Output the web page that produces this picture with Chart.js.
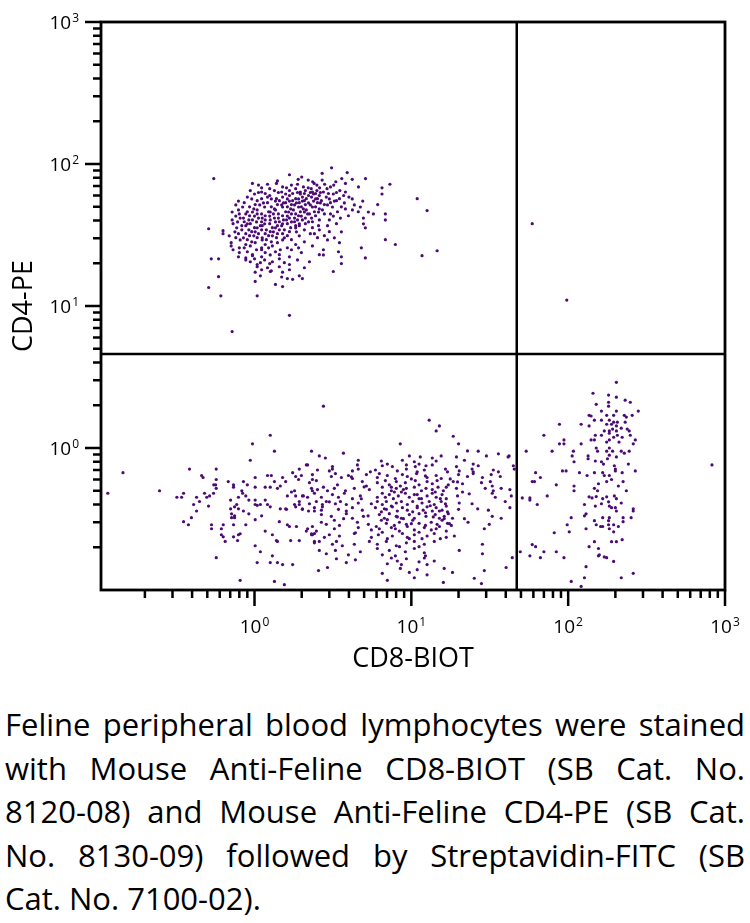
<!DOCTYPE html>
<html>
<head>
<meta charset="utf-8">
<script src="https://cdn.jsdelivr.net/npm/chart.js@4.4.1/dist/chart.umd.min.js"></script>
<style>
  html, body { margin: 0; padding: 0; background: #fff; }
  #wrap { position: relative; width: 750px; height: 923px; overflow: hidden; }
  #plot { position: absolute; left: 0; top: 0; }
  #caption {
    position: absolute; left: 5px; top: 703px; width: 740px;
    font-family: "Open Sans", sans-serif; font-size: 31px; line-height: 43.5px; color: #000;
  }
  #caption .j { text-align: justify; text-align-last: justify; }
</style>
</head>
<body>
<div id="wrap">
  <canvas id="plot" width="750" height="700"></canvas>
  <div id="caption">
    <div class="j">Feline peripheral blood lymphocytes were stained</div>
    <div class="j">with Mouse Anti-Feline CD8-BIOT (SB Cat. No.</div>
    <div class="j">8120-08) and Mouse Anti-Feline CD4-PE (SB Cat.</div>
    <div class="j">No. 8130-09) followed by Streptavidin-FITC (SB</div>
    <div>Cat. No. 7100-02).</div>
  </div>
</div>
<script>
// Axis ranges and tick values (log decades)
const xRange = [0.105, 1000];
const yRange = [0.1, 1000];
const xMajorTicks = [1, 10, 100, 1000];
const yMajorTicks = [1, 10, 100, 1000];
const minorDecades = [0.1, 1, 10, 100];
const minorSteps = [2, 3, 4, 5, 6, 7, 8, 9];

// Quadrant gates
const cd8Gate = 47;
const cd4Gate = 4.6;

const xTitle = 'CD8-BIOT';
const yTitle = 'CD4-PE';

// Events: [CD8, CD4]
// CD4+ CD8- (upper left)
const cd4Pos = [
  [3.1,94],[2.7,86],[3.9,87],[1.67,84],[2.0,81],
  [0.55,79],[1.9,78],[3.6,79],[4.2,78],[5.1,79],
  [1.4,76],[2.2,77],[2.35,75],[2.7,77],[3.3,75],
  [0.97,73],[1.21,72],[1.38,73],[1.88,72],[2.4,73],[2.8,72],[3.8,73],[7.3,72],
  [1.06,71],[1.51,69],[1.72,71],[2.05,69],[2.5,71],[3.05,69],[3.2,71],[4.6,69],
  [1.11,68],[1.25,67],[1.6,68],[1.83,67],[2.2,68],[2.3,67],[2.6,68],[2.9,67],[6.5,68],
  [0.94,65],[1.11,63.5],[1.34,65],[1.49,63.5],[1.67,65],[1.96,63.5],[2.11,65],[2.34,63.5],[2.5,65],[2.75,63.5],[3.5,65],[3.8,63.5],
  [1.06,63],[1.17,62],[1.42,63],[1.75,62],[1.88,63],[2.08,62],[2.27,63],[2.45,62],[2.63,63],[2.96,62],[3.33,63],
  [1.0,61.5],[1.25,60],[1.58,61.5],[1.67,60],[1.96,61.5],[2.21,60],[2.38,61.5],[2.59,60],[3.18,61.5],[3.7,60],[6.5,61.5],
  [0.9,58.5],[1.11,57],[1.21,58.5],[1.38,57],[1.51,58.5],[1.83,57],[2.02,58.5],[2.14,57],[2.31,58.5],[2.52,57],[2.87,58.5],[3.48,57],[4.0,58.5],[10.9,57],
  [0.96,56.8],[1.04,55.2],[1.28,56.8],[1.44,55.2],[1.62,56.8],[1.75,55.2],[1.91,56.8],[2.08,55.2],[2.45,56.8],[2.67,55.2],[3.0,56.8],[3.33,55.2],[4.2,56.8],
  [0.79,54.8],[1.14,53.2],[1.36,54.8],[1.53,53.2],[1.67,54.8],[1.85,53.2],[2.02,54.8],[2.21,53.2],[2.38,54.8],[2.63,53.2],[3.23,54.8],[3.74,53.2],[4.9,54.8],
  [0.86,53.4],[1.01,51.8],[1.21,53.4],[1.4,51.8],[1.58,53.4],[1.72,51.8],[1.93,53.4],[2.11,51.8],[2.52,53.4],[2.79,51.8],[3.05,53.4],[6.1,51.8],
  [0.76,51.5],[0.93,49.9],[1.08,51.5],[1.28,49.9],[1.49,51.5],[1.62,49.9],[1.8,51.5],[1.99,49.9],[2.27,51.5],[2.45,49.9],[2.92,51.5],[3.58,49.9],[4.33,51.5],
  [0.84,49.8],[0.99,48.3],[1.16,49.8],[1.34,48.3],[1.51,49.8],[1.7,48.3],[1.91,49.8],[2.05,48.3],[2.34,49.8],[2.59,48.3],[3.14,49.8],[3.8,48.3],[4.73,49.8],
  [0.79,47.5],[0.9,46.1],[1.04,47.5],[1.23,46.1],[1.36,47.5],[1.58,46.1],[1.77,47.5],[1.96,46.1],[2.14,47.5],[2.41,46.1],[2.71,47.5],[3.38,46.1],[4.21,47.5],[4.59,46.1],[12.6,47],
  [0.72,45.9],[0.88,44.5],[0.97,45.9],[1.11,44.5],[1.26,45.9],[1.42,44.5],[1.65,45.9],[1.83,44.5],[2.08,45.9],[2.24,44.5],[2.56,45.9],[3.05,44.5],[5.32,45.9],[6.83,44.5],
  [0.8,44.5],[0.93,43.2],[1.04,44.5],[1.17,43.2],[1.32,44.5],[1.51,43.2],[1.72,44.5],[1.91,43.2],[2.18,44.5],[2.45,43.2],[2.79,44.5],[3.97,43.2],[5.73,44.5],
  [0.76,43],[0.85,41.6],[1.0,43],[1.12,41.6],[1.25,43],[1.42,41.6],[1.62,43],[1.8,41.6],[1.99,43],[2.31,41.6],[3.18,43],[4.95,41.6],
  [0.81,41.6],[0.92,40.4],[1.06,41.6],[1.17,40.4],[1.34,41.6],[1.53,40.4],[1.67,41.6],[1.88,40.4],[2.11,41.6],[2.59,40.4],[3.53,41.6],[6.83,40.4],
  [0.72,40.4],[0.86,39.2],[0.97,40.4],[1.11,39.2],[1.26,40.4],[1.44,39.2],[1.6,40.4],[1.8,39.2],[2.02,40.4],[2.34,39.2],[3.0,40.4],
  [0.78,39.1],[0.9,37.9],[1.03,39.1],[1.16,37.9],[1.36,39.1],[1.51,37.9],[1.72,39.1],[1.93,37.9],[2.21,39.1],[4.95,37.9],
  [0.73,38],[0.83,36.8],[0.94,38],[1.09,36.8],[1.25,38],[1.4,36.8],[1.62,38],[1.83,36.8],[2.11,38],[2.56,36.8],[3.33,38],
  [0.88,36.8],[1.0,35.6],[1.12,36.8],[1.3,35.6],[1.49,36.8],[1.7,35.6],[1.93,36.8],[2.34,35.6],[2.92,36.8],
  [0.51,35],[0.77,35.5],[0.92,34.4],[1.04,35.5],[1.19,34.4],[1.36,35.5],[1.55,34.4],[1.83,35.5],[2.59,34.4],[5.09,35.5],
  [0.63,33.9],[0.83,34.4],[0.96,33.4],[1.11,34.4],[1.26,33.4],[1.44,34.4],[1.67,33.4],[2.08,34.4],[3.0,33.4],
  [0.63,32.3],[0.75,33.3],[0.88,32.3],[1.01,33.3],[1.17,32.3],[1.32,33.3],[1.51,32.3],[1.85,33.3],[2.41,32.3],[3.58,33.3],
  [0.79,32.3],[0.93,31.3],[1.06,32.3],[1.23,31.3],[1.4,32.3],[1.62,31.3],[2.27,32.3],[2.79,31.3],
  [0.69,31.2],[0.85,30.2],[0.99,31.2],[1.12,30.2],[1.3,31.2],[1.55,30.2],[1.93,31.2],[3.23,30.2],
  [0.76,30.3],[0.9,29.3],[1.04,30.3],[1.19,29.3],[1.38,30.3],[1.72,29.3],[2.52,30.3],[6.83,29.3],
  [0.81,29.2],[0.96,28.3],[1.12,29.2],[1.28,28.3],[1.51,29.2],[2.08,28.3],[2.92,29.2],
  [0.71,27.9],[0.88,27.1],[1.01,27.9],[1.17,27.1],[1.4,27.9],[1.83,27.1],[3.48,27.9],[7.91,27.1],
  [0.71,26.5],[0.8,25.7],[0.94,26.5],[1.11,25.7],[1.3,26.5],[1.62,25.7],[2.34,26.5],[4.8,25.7],
  [0.86,25.7],[1.03,24.9],[1.23,25.7],[1.46,24.9],[1.91,25.7],[2.75,24.9],
  [0.73,24.9],[0.9,24.1],[1.11,24.9],[1.36,24.1],[1.72,24.9],[3.43,24.1],[14.6,24.5],
  [0.8,23.8],[0.97,23],[1.17,23.8],[1.44,23],[1.99,23.8],[2.59,23],
  [0.97,22.6],[1.11,22.2],[1.26,22.9],[1.67,22.2],[2.75,22.9],[11.7,22.6],
  [0.79,22.2],[0.88,21.8],[3.58,22.2],[5.09,21.8],
  [0.53,21.5],[0.59,21.5],[0.88,21.1],[1.0,21.5],[1.16,21.1],[1.44,21.5],[1.88,21.1],
  [0.94,20.5],[1.09,20.2],[1.3,20.5],[1.55,20.2],[2.24,20.5],
  [1.04,19.6],[1.25,19.9],[1.67,19.6],[3.58,19.9],
  [1.04,18.9],[1.21,18.6],[1.44,18.9],[2.08,18.6],
  [1.11,18],[1.28,17.7],[1.67,18],
  [1.01,17.3],[1.26,17.5],[1.51,17.3],[3.18,17.5],
  [1.09,16.3],[1.49,16],[1.93,16.3],[0.59,16.1],
  [1.62,15.6],[1.75,15.4],[2.02,15.6],
  [1.01,14.9],[1.36,14.2],[1.51,13.7],[0.51,13.5],[0.61,11.8],[1.04,11.8],[1.67,8.6],[0.72,6.6]
];

// CD4+ CD8+ (upper right)
const doublePos = [[59,38],[98,11]];

// CD4- CD8- (lower left)
const doubleNeg = [
  [1.26,1.23],[0.97,1.07],[1.34,0.95],[2.31,0.95],[0.94,0.82],[0.145,0.67],[0.385,0.71],[0.57,0.71],[1.93,0.71],[2.14,0.76],
  [1.75,0.67],[1.83,0.63],[1.91,0.6],[0.46,0.64],[0.47,0.62],[0.57,0.6],[1.01,0.62],[1.21,0.64],[1.28,0.64],[1.34,0.58],
  [1.51,0.62],[1.58,0.58],[0.68,0.58],[0.735,0.55],[0.735,0.53],[0.55,0.55],[0.565,0.55],[0.57,0.52],[2.34,0.6],[0.83,0.5],
  [0.84,0.48],[0.88,0.46],[0.9,0.55],[0.85,0.58],[1.01,0.53],[1.17,0.53],[1.26,0.53],[1.4,0.52],[1.46,0.54],[0.248,0.5],
  [0.116,0.48],[0.353,0.48],[0.48,0.48],[0.517,0.46],[0.548,0.48],[0.32,0.45],[0.343,0.45],[0.427,0.45],[0.496,0.45],[1.62,0.46],
  [1.72,0.49],[1.83,0.46],[1.8,0.5],[2.05,0.46],[2.18,0.45],[2.34,0.5],[0.704,0.43],[0.79,0.45],[0.92,0.43],[1.01,0.43],
  [1.17,0.43],[0.409,0.4],[0.446,0.42],[0.509,0.39],[0.77,0.4],[1.01,0.4],[1.04,0.395],[1.09,0.4],[1.21,0.4],[1.26,0.385],
  [1.46,0.373],[1.58,0.373],[1.6,0.37],[1.8,0.4],[1.83,0.385],[1.93,0.4],[2.02,0.373],[2.41,0.36],[0.704,0.373],[0.746,0.385],
  [0.79,0.373],[0.85,0.36],[0.92,0.344],[0.427,0.36],[0.714,0.344],[0.746,0.333],[0.714,0.323],[0.746,0.323],[0.396,0.323],[1.11,0.333],
  [1.01,0.313],[1.44,0.303],[0.353,0.303],[0.379,0.288],[0.532,0.288],[0.632,0.288],[0.735,0.288],[0.88,0.288],[0.532,0.27],[0.615,0.27],
  [1.62,0.288],[1.67,0.28],[1.85,0.28],[1.17,0.26],[2.14,0.26],[2.31,0.249],[0.615,0.245],[0.632,0.237],[0.79,0.245],[0.81,0.249],
  [0.735,0.237],[0.78,0.223],[1.3,0.245],[1.38,0.223],[1.4,0.22],[1.7,0.223],[1.93,0.223],[2.34,0.245],[2.41,0.22],[0.65,0.22],
  [1.01,0.205],[1.09,0.186],[1.3,0.174],[0.57,0.169],[1.04,0.156],[1.26,0.156],[1.4,0.156],[1.51,0.151],[1.75,0.151],[0.81,0.117],
  [1.34,0.115],[1.55,0.109],
  [2.75,1.97],[13,1.57],[15.1,1.43],[14.4,1.32],[18.5,1.21],[8.5,1.07],[20,1.07],
  [3.69,0.92],[22.8,0.953],[26.7,0.95],[35.9,0.91],
  [2.59,0.88],[2.83,0.85],[4.59,0.82],[9.71,0.88],[11.4,0.865],[13.6,0.85],[15.5,0.88],[19.4,0.865],[30.1,0.88],[41.4,0.865],
  [6.44,0.81],[8.77,0.82],[10.45,0.8],[14.4,0.81],[21.8,0.82],
  [2.18,0.76],[3.14,0.74],[4.53,0.76],[6.53,0.75],[7.03,0.77],[7.57,0.74],[9.3,0.76],[10.6,0.74],[11.2,0.77],[12.4,0.75],[13.6,0.76],[19.4,0.74],[24.8,0.77],[26.7,0.75],
  [2.52,0.7],[3.0,0.69],[3.14,0.71],[4.21,0.69],[4.59,0.71],[5.48,0.68],[5.9,0.7],[8.14,0.69],[9.3,0.71],[10.9,0.68],[12.1,0.7],[16.5,0.71],[17,0.68],[20.2,0.69],[24.4,0.71],[24.8,0.68],[33.3,0.7],[35.9,0.68],
  [1.99,0.64],[2.34,0.65],[3.09,0.63],[3.28,0.66],[3.58,0.62],[3.97,0.64],[4.21,0.61],[5.17,0.65],[6.07,0.62],[6.25,0.66],[7.03,0.64],[7.91,0.61],[8.77,0.65],[9.43,0.63],[10.8,0.66],[12.6,0.62],[14.4,0.64],[15.5,0.61],[20,0.65],[22.8,0.63],[24.8,0.66],[28.4,0.62],[32.3,0.65],[36.9,0.63],
  [2.24,0.57],[2.48,0.59],[3.38,0.55],[4.87,0.58],[5.17,0.54],[6.07,0.57],[6.83,0.59],[7.24,0.55],[8.02,0.58],[8.51,0.54],[9.16,0.57],[10.6,0.59],[11.2,0.55],[12.6,0.58],[13.6,0.56],[14.6,0.59],[17.2,0.55],[18.5,0.58],[21.2,0.56],[28,0.57],[31.9,0.58],[32.8,0.54],
  [2.31,0.52],[2.52,0.51],[2.75,0.53],[2.92,0.5],[3.23,0.52],[4.33,0.52],[5.4,0.51],[6.53,0.53],[7.46,0.5],[8.02,0.52],[8.64,0.49],[9.3,0.52],[10.45,0.53],[11.6,0.5],[12.4,0.52],[13.6,0.51],[14.8,0.53],[16,0.5],[19.4,0.52],[21.2,0.49],[29.6,0.52],[33.3,0.5],[37.4,0.52],[42.5,0.51],
  [2.02,0.46],[2.41,0.48],[2.67,0.45],[3.14,0.47],[3.43,0.45],[3.74,0.48],[4.21,0.44],[4.73,0.46],[6.53,0.48],[6.83,0.45],[7.24,0.47],[7.68,0.44],[8.26,0.46],[9.16,0.48],[9.71,0.45],[10.45,0.47],[11.2,0.44],[12.6,0.46],[13.6,0.48],[14.4,0.45],[15.7,0.47],[16.7,0.44],[19.7,0.46],[32.8,0.48],[34.3,0.45],
  [1.93,0.42],[2.24,0.405],[2.48,0.42],[2.71,0.4],[2.87,0.42],[3.28,0.405],[3.53,0.42],[3.85,0.4],[4.59,0.41],[6.07,0.42],[6.53,0.4],[6.93,0.42],[7.46,0.39],[8.02,0.41],[8.64,0.42],[9.43,0.4],[10.2,0.42],[10.9,0.39],[11.7,0.41],[13,0.42],[14,0.4],[15.5,0.42],[16.7,0.39],[20.2,0.41],[24.4,0.405],[39.7,0.42],
  [2.02,0.37],[2.21,0.36],[2.41,0.38],[2.67,0.365],[2.71,0.385],[3.43,0.37],[3.85,0.36],[4.21,0.38],[4.87,0.365],[5.9,0.38],[6.44,0.355],[6.93,0.37],[7.57,0.385],[8.14,0.36],[8.77,0.38],[9.43,0.365],[10.2,0.355],[10.9,0.38],[11.9,0.365],[12.6,0.385],[13.6,0.36],[14.4,0.38],[15.7,0.365],[17,0.355],[20,0.37],[31,0.365],[42.5,0.38],
  [2.67,0.34],[3.09,0.33],[3.85,0.345],[4.21,0.32],[4.95,0.33],[6.25,0.34],[6.73,0.32],[7.24,0.345],[8.02,0.33],[8.64,0.32],[9.71,0.34],[10.45,0.32],[11.2,0.345],[12.4,0.33],[14.2,0.34],[15.1,0.32],[16.2,0.33],[17.2,0.345],[18.3,0.32],[32.8,0.33],[37.4,0.32],
  [2.67,0.3],[2.87,0.29],[3.23,0.31],[3.48,0.285],[4.53,0.3],[5.32,0.29],[6.44,0.31],[6.93,0.295],[7.79,0.285],[8.39,0.3],[9.3,0.29],[10.2,0.31],[11.2,0.295],[12.3,0.285],[13.4,0.3],[14.6,0.29],[15.7,0.31],[17,0.295],[18,0.285],[23,0.3],[31.4,0.29],
  [2.18,0.27],[2.34,0.28],[2.48,0.26],[3.23,0.27],[4.59,0.275],[5.56,0.265],[5.98,0.28],[6.53,0.255],[7.46,0.275],[8.39,0.26],[9.43,0.28],[10.45,0.265],[11.2,0.255],[12.1,0.275],[13.4,0.265],[15.1,0.28],[16.7,0.26],[29.2,0.27],
  [2.31,0.245],[2.41,0.25],[2.79,0.235],[3.0,0.245],[3.48,0.24],[4.33,0.25],[5.56,0.235],[6.16,0.245],[7.03,0.23],[7.57,0.24],[8.77,0.25],[9.43,0.235],[10.45,0.245],[11.7,0.23],[12.6,0.24],[14,0.25],[16.7,0.235],[18.8,0.24],
  [2.41,0.215],[2.59,0.22],[3.14,0.21],[3.33,0.22],[3.63,0.205],[4.33,0.21],[5.4,0.22],[6.07,0.21],[6.93,0.22],[8.02,0.205],[9.3,0.215],[10.45,0.22],[12.1,0.21],[14,0.22],[28.4,0.21],
  [2.59,0.19],[2.87,0.18],[3.28,0.19],[3.97,0.177],[4.73,0.186],[6.07,0.196],[6.53,0.177],[7.24,0.19],[7.91,0.174],[9.16,0.186],[10.45,0.196],[12.1,0.183],[12.3,0.174],[20.2,0.19],[28.4,0.18],
  [3.33,0.166],[3.85,0.156],[4.4,0.163],[7.03,0.153],[7.46,0.168],[8.14,0.16],[8.64,0.151],[9.3,0.166],[11.2,0.158],[12.1,0.168],[12.6,0.151],[14,0.16],
  [2.56,0.137],[2.92,0.144],[6.53,0.131],[8.51,0.142],[9.71,0.133],[10.9,0.139],[12.6,0.128],[16.2,0.142],[18.3,0.133],[29.2,0.137],[40.2,0.144],
  [7.03,0.117],[10.45,0.122],[16,0.113],[25.2,0.121],[28,0.111],
  [42,0.88],[44.7,0.75],[45.3,0.71],[43.4,0.46],[44,0.169],
  [7.46,0.53],[7.79,0.49],[8.9,0.51],[14.2,0.49],[15.3,0.44],[16.5,0.405],[15.1,0.36],[16.2,0.318],[17.5,0.293],[13.8,0.327],
  [8.14,0.327],[8.9,0.318],[6.73,0.373],[6.07,0.45],[5.56,0.405],[10.0,0.606],[12.3,0.636],[17.7,0.606],[16.7,0.53],[19.7,0.577],
  [11.6,0.44],[10.9,0.47],[13.2,0.392],[12.3,0.35],[10.0,0.293],[7.91,0.27],[7.03,0.313],[6.25,0.27],[5.3,0.333],[4.8,0.439],
  [5.0,0.532],[4.15,0.626],[3.8,0.5],[3.0,0.418],[3.7,0.318],[4.4,0.253],[9.71,0.23],[11.2,0.202],[8.4,0.202],[14.4,0.27],
  [15.3,0.23],[23.4,0.476],[26.5,0.373],[21.8,0.318]
];

// CD8+ CD4- (lower right)
const cd8Pos = [
  [203,2.9],[144,2.43],[181,2.36],[203,2.28],[231,2.17],[249,2.1],[151,2.03],[181,2.1],[181,1.97],[280,1.82],[163,1.82],[203,1.82],
  [136,1.7],[140,1.68],[176,1.7],[195,1.7],[228,1.7],[235,1.65],[256,1.7],
  [147,1.57],[163,1.57],[183,1.57],[206,1.52],[231,1.52],
  [88,1.47],[121,1.47],[136,1.43],[176,1.47],[189,1.47],[195,1.52],[203,1.43],[218,1.38],
  [170,1.32],[183,1.32],[192,1.36],[203,1.32],[238,1.36],[245,1.32],
  [70,1.23],[149,1.23],[163,1.23],[183,1.27],[206,1.23],[221,1.19],[249,1.23],
  [94,1.14],[94,1.07],[88,1.07],[121,1.07],[140,1.14],[147,1.14],[176,1.1],[183,1.14],[195,1.19],[211,1.1],[268,1.14],[260,1.07],
  [54,0.95],[79,0.95],[108,0.95],[151,1.0],[154,0.95],[176,0.95],[183,1.0],[192,0.95],[218,0.95],[228,0.92],[245,0.95],
  [106,0.88],[134,0.88],[134,0.84],[183,0.89],[203,0.865],[178,0.84],
  [109,0.8],[149,0.81],[163,0.8],[168,0.77],[197,0.75],[200,0.71],[242,0.77],[200,0.69],
  [92,0.69],[97,0.69],[118,0.67],[132,0.64],[147,0.67],[166,0.67],[170,0.64],[183,0.64],[221,0.67],[268,0.69],
  [62,0.67],[66.5,0.62],[59,0.58],[61,0.58],
  [84,0.55],[109,0.54],[156,0.56],[176,0.58],[189,0.6],[209,0.54],[224,0.58],
  [109,0.5],[147,0.52],[154,0.5],[235,0.5],
  [51,0.445],[57,0.445],[57,0.43],[73.5,0.46],
  [136,0.453],[142,0.445],[151,0.455],[166,0.44],[176,0.453],[181,0.418],[197,0.46],[203,0.44],[218,0.41],
  [63.5,0.4],[127,0.4],[149,0.39],[163,0.405],[183,0.39],[189,0.38],[200,0.38],[203,0.36],[260,0.373],[260,0.36],
  [130,0.344],[127,0.333],[166,0.323],[183,0.323],[224,0.323],[252,0.323],[104.6,0.323],
  [147,0.308],[181,0.308],[151,0.288],[161,0.28],[166,0.28],[181,0.288],[195,0.288],[209,0.28],[98.6,0.288],[224,0.303],
  [130,0.27],[183,0.27],[195,0.257],[101.6,0.257],[81.5,0.253],
  [221,0.226],[189,0.219],[203,0.219],[147,0.219],[136,0.202],
  [59,0.209],[62,0.202],[49.5,0.186],[57,0.174],[66.5,0.169],[70,0.186],[84,0.186],[94,0.169],
  [156,0.196],[158,0.177],[156,0.174],[170,0.171],[176,0.169],[195,0.159],[130,0.146],
  [218,0.122],[260,0.131],[127,0.122],[104.6,0.115],[121,0.106],[826,0.76]
];

const dotColor = 'rgb(76,10,116)';
const populations = [cd4Pos, doublePos, doubleNeg, cd8Pos];

// superscript tick label: "10" + exponent
function drawPower(ctx, exp, x, y, align) {
  ctx.font = '19px "Open Sans"';
  const bw = ctx.measureText('10').width;
  ctx.font = '12px "Open Sans"';
  const sw = ctx.measureText(String(exp)).width;
  const total = bw + sw + 1;
  const left = align === 'right' ? x - total : x - total / 2;
  ctx.font = '19px "Open Sans"';
  ctx.fillText('10', left, y);
  ctx.font = '12px "Open Sans"';
  ctx.fillText(String(exp), left + bw + 1, y - 7);
}

const frame = {
  id: 'frame',
  afterDatasetsDraw(chart) {
    const { ctx, chartArea: a, scales: { x, y } } = chart;
    ctx.save();
    ctx.strokeStyle = '#000';
    ctx.lineWidth = 2.5;
    const gx = x.getPixelForValue(cd8Gate);
    const gy = y.getPixelForValue(cd4Gate);
    ctx.beginPath();
    ctx.moveTo(gx, a.top); ctx.lineTo(gx, a.bottom);
    ctx.moveTo(a.left, gy); ctx.lineTo(a.right, gy);
    ctx.stroke();
    ctx.lineWidth = 2.8;
    ctx.strokeRect(a.left, a.top, a.right - a.left, a.bottom - a.top);
    ctx.restore();
  },
  afterDraw(chart) {
    const { ctx, chartArea: a, scales: { x, y } } = chart;
    ctx.save();
    ctx.strokeStyle = '#000';
    ctx.fillStyle = '#000';
    ctx.lineWidth = 2.5;
    ctx.lineCap = 'butt';
    const minors = [];
    minorDecades.forEach(d => minorSteps.forEach(s => minors.push(+(d * s).toPrecision(3))));

    ctx.beginPath();
    // x ticks
    minors.filter(v => v > xRange[0] && v < xRange[1]).forEach(v => {
      const px = x.getPixelForValue(v);
      ctx.moveTo(px, a.bottom); ctx.lineTo(px, a.bottom + 8);
    });
    xMajorTicks.forEach(v => {
      const px = x.getPixelForValue(v);
      ctx.moveTo(px, a.bottom); ctx.lineTo(px, a.bottom + 16);
    });
    // y ticks
    minors.filter(v => v > yRange[0] && v < yRange[1]).forEach(v => {
      const py = y.getPixelForValue(v);
      ctx.moveTo(a.left - 8, py); ctx.lineTo(a.left, py);
    });
    yMajorTicks.forEach(v => {
      const py = y.getPixelForValue(v);
      ctx.moveTo(a.left - 16, py); ctx.lineTo(a.left, py);
    });
    ctx.stroke();

    ctx.textBaseline = 'alphabetic';
    ctx.textAlign = 'left';
    xMajorTicks.forEach(v => {
      drawPower(ctx, Math.round(Math.log10(v)), x.getPixelForValue(v), a.bottom + 43, 'center');
    });
    yMajorTicks.forEach(v => {
      drawPower(ctx, Math.round(Math.log10(v)), a.left - 22, y.getPixelForValue(v) + 7, 'right');
    });

    // axis titles
    ctx.font = '27px "Open Sans"';
    ctx.textAlign = 'center';
    ctx.fillText(xTitle, (a.left + a.right) / 2, a.bottom + 77);
    ctx.translate(32, (a.top + a.bottom) / 2);
    ctx.rotate(-Math.PI / 2);
    ctx.fillText(yTitle, 0, 0);
    ctx.restore();
  }
};

new Chart(document.getElementById('plot'), {
  type: 'scatter',
  data: {
    datasets: populations.map(pop => ({
      data: pop.map(([cd8, cd4]) => ({ x: cd8, y: cd4 })),
      pointRadius: 1.6,
      pointBorderWidth: 0,
      pointBackgroundColor: dotColor
    }))
  },
  options: {
    responsive: false,
    animation: false,
    events: [],
    layout: { padding: { top: 22, right: 25, left: 0, bottom: 0 } },
    plugins: { legend: { display: false }, tooltip: { enabled: false } },
    scales: {
      x: {
        type: 'logarithmic', min: xRange[0], max: xRange[1],
        grid: { display: false }, border: { display: false }, ticks: { display: false },
        afterFit(s) { s.height = 110; }
      },
      y: {
        type: 'logarithmic', min: yRange[0], max: yRange[1],
        grid: { display: false }, border: { display: false }, ticks: { display: false },
        afterFit(s) { s.width = 101; }
      }
    }
  },
  plugins: [frame]
});
</script>
</body>
</html>
